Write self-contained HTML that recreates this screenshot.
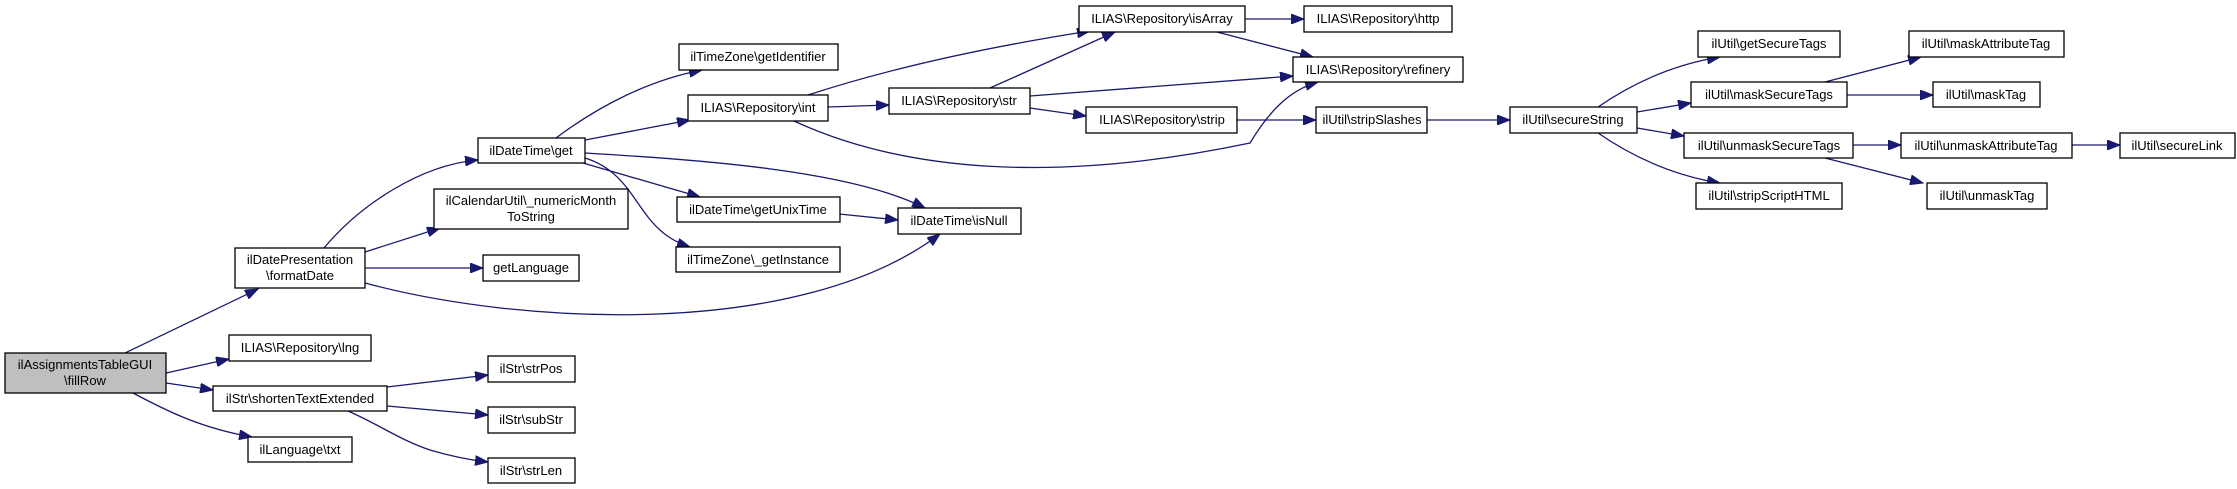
<!DOCTYPE html>
<html><head><meta charset="utf-8"><style>
html,body{margin:0;padding:0;background:#fff;}
svg{display:block;}
text{font-family:"Liberation Sans",sans-serif;font-size:13px;fill:#000;text-anchor:middle;}
.b{fill:#fff;stroke:#000;stroke-width:1.3;}
.e{fill:none;stroke:#191970;stroke-width:1.3;}
</style></head><body>
<svg width="2237" height="489" viewBox="0 0 2237 489" xmlns="http://www.w3.org/2000/svg">
<defs><marker id="a" markerUnits="userSpaceOnUse" markerWidth="14" markerHeight="10" refX="13" refY="5" orient="auto"><path d="M0,0 L13,5 L0,10 z" fill="#191970" stroke="#191970"/></marker></defs>
<g marker-end="url(#a)">
<path class="e" d="M125,353 L258,289"/>
<path class="e" d="M166,373 L229,359"/>
<path class="e" d="M166,383 L213,390"/>
<path class="e" d="M133,393 C165,410 200,428 252,437"/>
<path class="e" d="M324,248 C360,205 420,165 478,160"/>
<path class="e" d="M365,252 L440,228"/>
<path class="e" d="M365,268 L483,268"/>
<path class="e" d="M365,283 C520,325 800,340 940,234"/>
<path class="e" d="M556,138 C600,105 650,80 702,70"/>
<path class="e" d="M585,140 L690,120"/>
<path class="e" d="M585,153 C700,160 850,170 925,208"/>
<path class="e" d="M583,163 L700,197"/>
<path class="e" d="M585,158 C640,175 635,230 690,247"/>
<path class="e" d="M808,95 C900,65 1000,45 1090,31"/>
<path class="e" d="M828,107 L889,105"/>
<path class="e" d="M794,121 C900,170 1050,185 1250,143 C1270,110 1290,90 1318,82"/>
<path class="e" d="M990,88 L1115,32"/>
<path class="e" d="M1030,96 L1293,76"/>
<path class="e" d="M1030,108 L1086,116"/>
<path class="e" d="M1245,19 L1304,19"/>
<path class="e" d="M1217,32 L1313,57"/>
<path class="e" d="M1237,120 L1316,120"/>
<path class="e" d="M1427,120 L1510,120"/>
<path class="e" d="M839,214 L898,220"/>
<path class="e" d="M1598,107 C1630,85 1670,65 1720,57"/>
<path class="e" d="M1637,112 L1691,103"/>
<path class="e" d="M1637,128 L1684,136"/>
<path class="e" d="M1598,133 C1630,155 1670,175 1720,183"/>
<path class="e" d="M1825,82 L1921,57"/>
<path class="e" d="M1847,95 L1933,95"/>
<path class="e" d="M1853,145 L1901,145"/>
<path class="e" d="M1825,158 L1923,183"/>
<path class="e" d="M2072,145 L2120,145"/>
<path class="e" d="M387,387 L488,375"/>
<path class="e" d="M387,406 L488,415"/>
<path class="e" d="M348,411 C380,425 400,440 430,450 C450,456 470,460 488,462"/>
</g>
<rect x="5" y="353" width="161" height="40" fill="#bfbfbf" stroke="#000" stroke-width="1.3"/>
<text x="85" y="369">ilAssignmentsTableGUI</text><text x="85" y="385">\fillRow</text>
<rect class="b" x="235" y="248" width="130" height="40"/><text x="300" y="264">ilDatePresentation</text><text x="300" y="280">\formatDate</text>
<rect class="b" x="478" y="138" width="107" height="25"/><text x="531" y="155">ilDateTime\get</text>
<rect class="b" x="434" y="189" width="194" height="40"/><text x="531" y="205">ilCalendarUtil\_numericMonth</text><text x="531" y="221">ToString</text>
<rect class="b" x="483" y="255" width="96" height="26"/><text x="531" y="272">getLanguage</text>
<rect class="b" x="229" y="335" width="142" height="26"/><text x="300" y="352">ILIAS\Repository\lng</text>
<rect class="b" x="213" y="386" width="174" height="25"/><text x="300" y="403">ilStr\shortenTextExtended</text>
<rect class="b" x="248" y="437" width="104" height="25"/><text x="300" y="454">ilLanguage\txt</text>
<rect class="b" x="488" y="356" width="87" height="26"/><text x="531" y="373">ilStr\strPos</text>
<rect class="b" x="488" y="407" width="87" height="26"/><text x="531" y="424">ilStr\subStr</text>
<rect class="b" x="488" y="458" width="87" height="25"/><text x="531" y="475">ilStr\strLen</text>
<rect class="b" x="679" y="44" width="159" height="26"/><text x="758" y="61">ilTimeZone\getIdentifier</text>
<rect class="b" x="688" y="95" width="140" height="26"/><text x="758" y="112">ILIAS\Repository\int</text>
<rect class="b" x="677" y="197" width="163" height="25"/><text x="758" y="214">ilDateTime\getUnixTime</text>
<rect class="b" x="676" y="247" width="164" height="25"/><text x="758" y="264">ilTimeZone\_getInstance</text>
<rect class="b" x="889" y="88" width="141" height="26"/><text x="959" y="105">ILIAS\Repository\str</text>
<rect class="b" x="1079" y="6" width="166" height="26"/><text x="1162" y="23">ILIAS\Repository\isArray</text>
<rect class="b" x="1304" y="6" width="148" height="26"/><text x="1378" y="23">ILIAS\Repository\http</text>
<rect class="b" x="1293" y="57" width="170" height="25"/><text x="1378" y="74">ILIAS\Repository\refinery</text>
<rect class="b" x="1086" y="107" width="151" height="26"/><text x="1162" y="124">ILIAS\Repository\strip</text>
<rect class="b" x="1316" y="107" width="111" height="26"/><text x="1372" y="124">ilUtil\stripSlashes</text>
<rect class="b" x="898" y="208" width="123" height="26"/><text x="959" y="225">ilDateTime\isNull</text>
<rect class="b" x="1510" y="107" width="127" height="26"/><text x="1573" y="124">ilUtil\secureString</text>
<rect class="b" x="1698" y="31" width="142" height="26"/><text x="1769" y="48">ilUtil\getSecureTags</text>
<rect class="b" x="1691" y="82" width="156" height="25"/><text x="1769" y="99">ilUtil\maskSecureTags</text>
<rect class="b" x="1684" y="133" width="169" height="25"/><text x="1769" y="150">ilUtil\unmaskSecureTags</text>
<rect class="b" x="1696" y="183" width="146" height="26"/><text x="1769" y="200">ilUtil\stripScriptHTML</text>
<rect class="b" x="1909" y="31" width="155" height="26"/><text x="1986" y="48">ilUtil\maskAttributeTag</text>
<rect class="b" x="1933" y="82" width="107" height="25"/><text x="1986" y="99">ilUtil\maskTag</text>
<rect class="b" x="1901" y="133" width="171" height="25"/><text x="1986" y="150">ilUtil\unmaskAttributeTag</text>
<rect class="b" x="1927" y="183" width="120" height="26"/><text x="1987" y="200">ilUtil\unmaskTag</text>
<rect class="b" x="2120" y="133" width="115" height="25"/><text x="2177" y="150">ilUtil\secureLink</text>
</svg>
</body></html>
